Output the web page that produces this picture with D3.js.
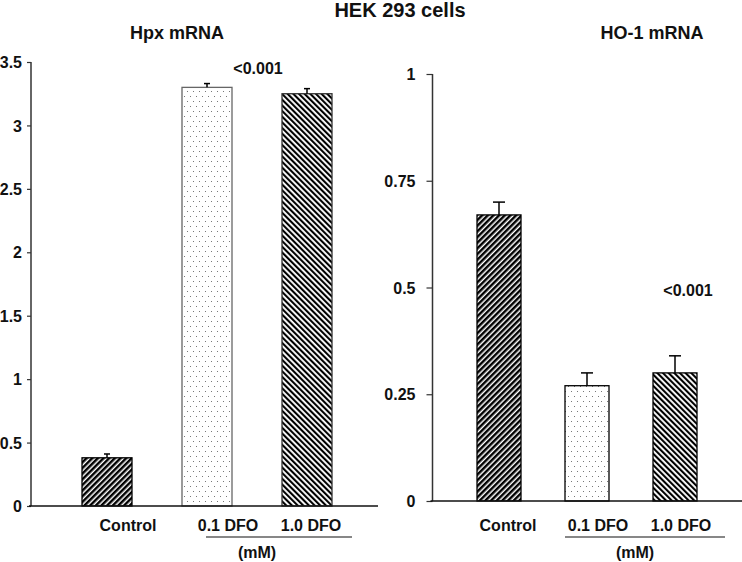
<!DOCTYPE html>
<html>
<head>
<meta charset="utf-8">
<script src="https://cdn.jsdelivr.net/npm/d3@7"></script>
<style>
  html, body { margin: 0; padding: 0; background: #fff; }
  svg { display: block; }
  text { font-family: "Liberation Sans", Arial, sans-serif; font-weight: bold; fill: #111; }
</style>
</head>
<body>
<script>
// ---- data ----
const categories = ["Control", "0.1 DFO", "1.0 DFO"];
const hpxValues = [0.38, 3.30, 3.25];
const hpxErrors = [0.03, 0.03, 0.04];
const ho1Values = [0.67, 0.27, 0.30];
const ho1Errors = [0.03, 0.03, 0.04];
const hpxTicks = [0, 0.5, 1, 1.5, 2, 2.5, 3, 3.5];
const ho1Ticks = [0, 0.25, 0.5, 0.75, 1];
const patterns = ["fwd", "dots", "back"];
const chartTitle = "HEK 293 cells";
const panelTitles = ["Hpx mRNA", "HO-1 mRNA"];
const pLabel = "<0.001";
const unitLabel = "(mM)";

// ---- layout ----
const W = 742, H = 562;
const svg = d3.select("body").append("svg").attr("width", W).attr("height", H);
const defs = svg.append("defs");

function stripes(id, angle, black, period) {
  const p = defs.append("pattern").attr("id", id).attr("patternUnits", "userSpaceOnUse")
    .attr("width", period).attr("height", period).attr("patternTransform", `rotate(${angle})`);
  p.append("rect").attr("width", period).attr("height", period).attr("fill", "#fff");
  p.append("rect").attr("width", black).attr("height", period).attr("fill", "#000");
}
stripes("fwd", 45, 2.5, 4);
stripes("back", -45, 2.1, 4);
const dp = defs.append("pattern").attr("id", "dots").attr("patternUnits", "userSpaceOnUse")
  .attr("width", 6).attr("height", 10);
dp.append("rect").attr("width", 6).attr("height", 10).attr("fill", "#fff");
dp.append("rect").attr("x", 1).attr("y", 1).attr("width", 1).attr("height", 1).attr("fill", "#777");
dp.append("rect").attr("x", 4).attr("y", 6).attr("width", 1).attr("height", 1).attr("fill", "#777");

svg.append("text").attr("x", 400).attr("y", 17).attr("text-anchor", "middle")
  .style("font-size", "20px").text(chartTitle);

const panels = [
  { values: hpxValues, errors: hpxErrors, ticks: hpxTicks, title: panelTitles[0],
    axisX: 31, y0: 506, yTop: 62, max: 3.5, bandRange: [57, 357], axisEnd: 378,
    titleX: 177, capW: 6, labelOffsets: [21, 21, 4], underline: [206, 352], unitX: 257,
    pX: 258, pY: 74, tickLen: 4, labelGap: 9, outlines: ["#000", "#666", "#333"] },
  { values: ho1Values, errors: ho1Errors, ticks: ho1Ticks, title: panelTitles[1],
    axisX: 432.5, y0: 501, yTop: 74, max: 1, bandRange: [455, 719], axisEnd: 742,
    titleX: 652, capW: 12, labelOffsets: [9, 11, 6], underline: [565, 725], unitX: 635,
    pX: 688, pY: 296, tickLen: 6, labelGap: 17, outlines: ["#000", "#000", "#000"] }
];

panels.forEach(pn => {
  const y = d3.scaleLinear().domain([0, pn.max]).range([pn.y0, pn.yTop]);
  const x = d3.scaleBand().domain(categories).range(pn.bandRange)
    .paddingInner(0.5).paddingOuter(0.25);
  const g = svg.append("g");

  // y axis
  const yAxis = d3.axisLeft(y).tickValues(pn.ticks).tickSize(pn.tickLen).tickPadding(pn.labelGap - pn.tickLen)
    .tickFormat(d => String(d));
  const ya = g.append("g").attr("transform", `translate(${pn.axisX},0)`).call(yAxis);
  ya.select(".domain").attr("d", `M0,${pn.yTop}V${pn.y0}`).attr("stroke", "#333").attr("stroke-width", 1.5);
  ya.selectAll(".tick line").attr("stroke", "#333").attr("stroke-width", 1.2);
  ya.selectAll(".tick text").style("font-size", "16px").attr("font-family", null).attr("dy", "0.35em");

  // bars
  g.selectAll("rect.bar").data(pn.values).enter().append("rect").attr("class", "bar")
    .attr("x", (d, i) => x(categories[i]))
    .attr("y", d => y(d))
    .attr("width", x.bandwidth())
    .attr("height", d => y(0) - y(d))
    .attr("fill", (d, i) => `url(#${patterns[i]})`)
    .attr("stroke", (d, i) => pn.outlines[i]).attr("stroke-width", 1.3);

  // error bars
  pn.values.forEach((v, i) => {
    const cx = x(categories[i]) + x.bandwidth() / 2;
    g.append("line").attr("x1", cx).attr("x2", cx).attr("y1", y(v)).attr("y2", y(v + pn.errors[i]))
      .attr("stroke", "#000").attr("stroke-width", 1.5);
    g.append("line").attr("x1", cx - pn.capW / 2).attr("x2", cx + pn.capW / 2)
      .attr("y1", y(v + pn.errors[i])).attr("y2", y(v + pn.errors[i]))
      .attr("stroke", "#000").attr("stroke-width", 1.5);
  });

  // baseline
  g.append("line").attr("x1", pn.axisX - 2).attr("x2", pn.axisEnd).attr("y1", y(0)).attr("y2", y(0))
    .attr("stroke", "#111").attr("stroke-width", 1.6);

  // category labels
  categories.forEach((c, i) => {
    g.append("text").attr("x", x(c) + x.bandwidth() / 2 + pn.labelOffsets[i]).attr("y", 531)
      .attr("text-anchor", "middle").style("font-size", "16px").text(c);
  });
  g.append("line").attr("x1", pn.underline[0]).attr("x2", pn.underline[1]).attr("y1", 537).attr("y2", 537)
    .attr("stroke", "#111").attr("stroke-width", 1.2);
  g.append("text").attr("x", pn.unitX).attr("y", 558).attr("text-anchor", "middle")
    .style("font-size", "16px").text(unitLabel);

  g.append("text").attr("x", pn.titleX).attr("y", 39).attr("text-anchor", "middle")
    .style("font-size", "18px").text(pn.title);
  g.append("text").attr("x", pn.pX).attr("y", pn.pY).attr("text-anchor", "middle")
    .style("font-size", "16px").text(pLabel);
});
</script>
</body>
</html>
